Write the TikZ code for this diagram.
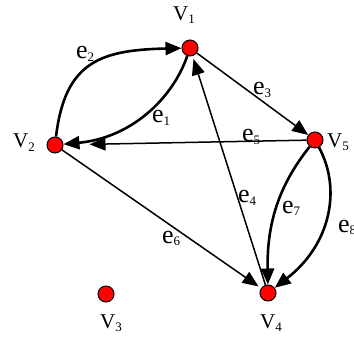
\documentclass[tikz,border=0pt]{standalone}
\usepackage{fontspec}
\setmainfont{Liberation Serif}
\usetikzlibrary{arrows.meta}
\newcommand\vlab[2]{{\fontsize{21}{21}\selectfont #1}\raisebox{-0.3em}{\fontsize{13}{13}\selectfont #2}}
\newcommand\elab[2]{{\fontsize{26}{26}\selectfont #1}\raisebox{-0.22em}{\fontsize{13}{13}\selectfont #2}}
\begin{document}
\begin{tikzpicture}[x=1pt,y=-1pt,
  vert/.style={circle,draw=black,line width=1pt,fill=red,minimum size=16pt,inner sep=0pt},
  txt/.style={anchor=base west,inner sep=0pt},
  edge/.style={line width=1.5pt,-{Triangle[length=16pt,width=13pt]}},
  cedge/.style={line width=2.6pt,-{Triangle[length=16pt,width=13pt]}}]
\useasboundingbox (0,0) rectangle (354,337);
\fill[white] (0,0) rectangle (354,337);
\node[vert] (v1) at (190,48) {};
\node[vert] (v2) at (55,145) {};
\node[vert] (v3) at (106,294) {};
\node[vert] (v4) at (268,293) {};
\node[vert] (v5) at (315,140) {};
\node[txt] (l1) at (173,21) {\vlab{V}{1}};
\node[txt] (l2) at (13,148) {\vlab{V}{2}};
\node[txt] (l3) at (100,328) {\vlab{V}{3}};
\node[txt] (l4) at (260,328) {\vlab{V}{4}};
\node[txt] (l5) at (327,147) {\vlab{V}{5}};
% edges
\draw[cedge] (v2) .. controls (65,62) and (100,50) .. (v1);
\draw[cedge] (v1) .. controls (172,100) and (130,138) .. (v2);
\draw[edge] (v1) -- (v5);
\draw[edge,shorten >=3pt] (v4) -- (v1) ;
\draw[edge,shorten >=26pt] (v5) -- (v2);
\draw[edge,shorten >=3pt] (v2) -- (v4);
\draw[cedge] (v5) .. controls (275,190) and (267,230) .. (v4);
\draw[cedge] (v5) .. controls (342,190) and (330,245) .. (v4);
% edge labels
\node[txt] (e1) at (152,123) {\elab{e}{1}};
\node[txt] (e2) at (76,59) {\elab{e}{2}};
\node[txt] (e3) at (253,95) {\elab{e}{3}};
\node[txt] (e4) at (238,203) {\elab{e}{4}};
\node[txt] (e5) at (242,142) {\elab{e}{5}};
\node[txt] (e6) at (162,243) {\elab{e}{6}};
\node[txt] (e7) at (282,213) {\elab{e}{7}};
\node[txt] (e8) at (338,232) {\elab{e}{8}};
\end{tikzpicture}
\end{document}
